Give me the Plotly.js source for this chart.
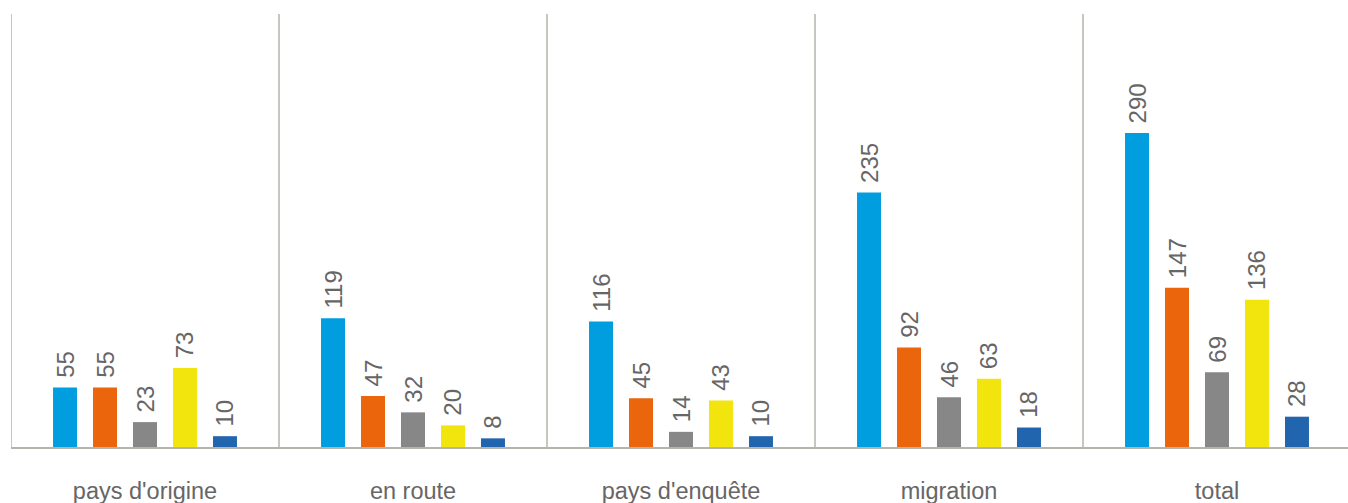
<!DOCTYPE html>
<html>
<head>
<meta charset="utf-8">
<script src="https://cdn.plot.ly/plotly-3.0.1.min.js"></script>
<style>
  html, body { margin: 0; padding: 0; overflow: hidden; background: #fff; }
  #chart { width: 1351px; height: 503px; }
</style>
</head>
<body>
<div id="chart"></div>
<script>
// Categories along the x axis
const categories = ["pays d'origine", "en route", "pays d'enquête", "migration", "total"];

// Five series, one value per category
const serie1 = [55, 119, 116, 235, 290];
const serie2 = [55, 47, 45, 92, 147];
const serie3 = [23, 32, 14, 46, 69];
const serie4 = [73, 20, 43, 63, 136];
const serie5 = [10, 8, 10, 18, 28];

const seriesNames = ['Série 1', 'Série 2', 'Série 3', 'Série 4', 'Série 5'];
const seriesValues = [serie1, serie2, serie3, serie4, serie5];
const seriesColors = ['#009EDF', '#EA650B', '#878787', '#F2E50E', '#2165AE'];

const valueFont = { family: 'Liberation Sans, Arial, sans-serif', size: 24, color: '#666666' };
const categoryFont = { family: 'Liberation Sans, Arial, sans-serif', size: 23.5, color: '#666666' };

// Value labels stand upright above each bar; a leading no-break space
// keeps them a little clear of the bar top.
const traces = seriesValues.map((vals, i) => ({
  type: 'bar',
  name: seriesNames[i],
  x: categories,
  y: vals,
  marker: { color: seriesColors[i], line: { width: 0 } },
  text: vals.map(String),
  texttemplate: '\u00a0%{text}',
  textposition: 'outside',
  textangle: -90,
  constraintext: 'none',
  textfont: valueFont,
  cliponaxis: false,
  hoverinfo: 'x+y'
}));

// Vertical separators between the category groups
const shapes = [];
for (let k = 0; k <= categories.length; k++) {
  shapes.push({
    type: 'line', xref: 'x', yref: 'paper',
    x0: k - 0.5, x1: k - 0.5, y0: 0, y1: 1,
    line: { color: '#b4b4ac', width: 1.5 },
    layer: 'below'
  });
}

const layout = {
  width: 1351,
  height: 503,
  margin: { l: 11, r: 0, t: 14, b: 56 },
  paper_bgcolor: '#ffffff',
  plot_bgcolor: '#ffffff',
  showlegend: false,
  barmode: 'group',
  bargap: 0.254,
  bargroupgap: 0.4,
  xaxis: {
    type: 'category',
    range: [-0.5, 4.5],
    showgrid: false,
    zeroline: false,
    showline: true,
    linecolor: '#b4b4ac',
    linewidth: 1.5,
    ticks: '',
    ticklabelstandoff: 22,
    tickfont: categoryFont,
    automargin: false,
    fixedrange: true
  },
  yaxis: {
    range: [0, 400],
    visible: false,
    showgrid: false,
    zeroline: false,
    fixedrange: true
  },
  shapes: shapes
};

Plotly.newPlot('chart', traces, layout, { displayModeBar: false, staticPlot: true });
</script>
</body>
</html>
